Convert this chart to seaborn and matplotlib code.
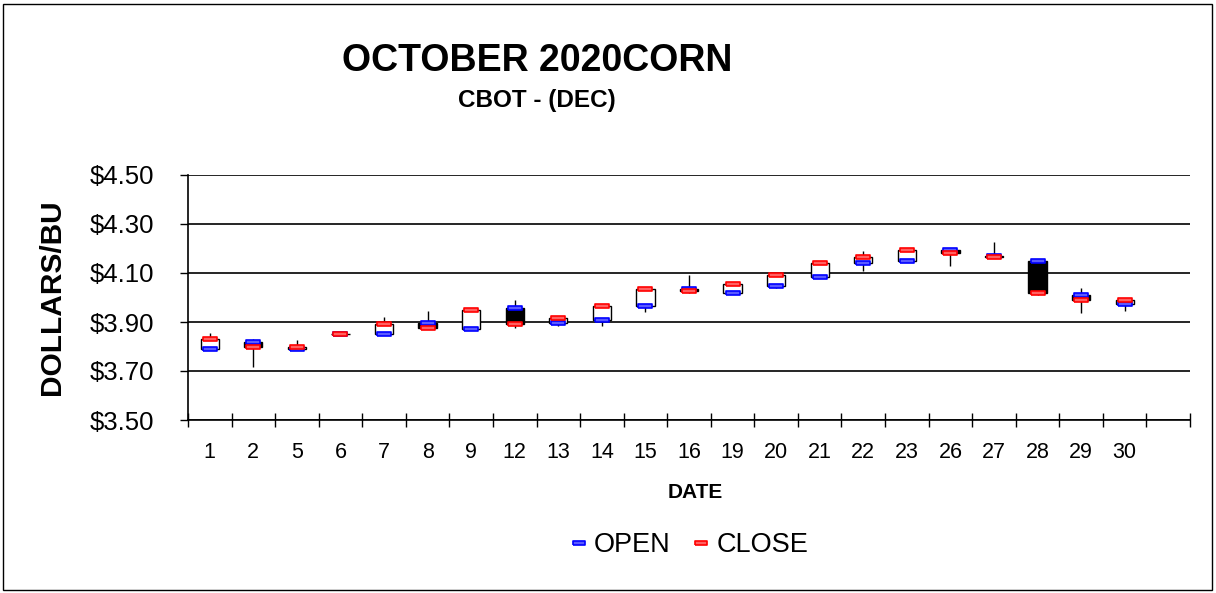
import numpy as np
import pandas as pd
import matplotlib
matplotlib.use("Agg")
import matplotlib.pyplot as plt
from matplotlib.lines import Line2D
from matplotlib.patches import Rectangle
from matplotlib.ticker import FuncFormatter
import seaborn as sns

# Data
days = ["1", "2", "5", "6", "7", "8", "9", "12", "13", "14", "15",
        "16", "19", "20", "21", "22", "23", "26", "27", "28", "29", "30"]
open_px = [3.790, 3.8175, 3.790, 3.850, 3.850, 3.895, 3.8725, 3.9575, 3.895, 3.910, 3.965,
           4.035, 4.020, 4.045, 4.0825, 4.140, 4.150, 4.195, 4.170, 4.150, 4.010, 3.975]
close_px = [3.830, 3.800, 3.7975, 3.850, 3.890, 3.875, 3.950, 3.8925, 3.915, 3.965, 4.035,
            4.025, 4.055, 4.090, 4.140, 4.165, 4.195, 4.180, 4.165, 4.020, 3.990, 3.990]
high_px = [3.855, 3.830, 3.825, 3.850, 3.920, 3.945, 3.950, 3.990, 3.925, 3.970, 4.040,
           4.090, 4.065, 4.100, 4.150, 4.190, 4.200, 4.200, 4.225, 4.155, 4.040, 4.000]
low_px = [3.790, 3.715, 3.790, 3.850, 3.845, 3.870, 3.870, 3.875, 3.885, 3.885, 3.940,
          4.020, 4.015, 4.040, 4.080, 4.110, 4.145, 4.130, 4.160, 4.010, 3.935, 3.945]

df = pd.DataFrame({"day": days, "open": open_px, "close": close_px,
                   "high": high_px, "low": low_px})
df["x"] = np.arange(len(df))

sns.set_theme(style="white")
plt.rcParams["font.family"] = ["Liberation Sans", "DejaVu Sans"]
plt.rcParams.update({"text.color": "black", "axes.labelcolor": "black",
                     "xtick.color": "black", "ytick.color": "black"})

fig = plt.figure(figsize=(12.16, 5.93), dpi=100)
ax = fig.add_axes([188 / 1216, 1 - 420 / 593, 1002 / 1216, 245 / 593])

# wicks
ax.vlines(df["x"], df["low"], df["high"], color="black", lw=1, zorder=2)

# bodies: hollow when up, black when down
up = df["close"] >= df["open"]
body_bottom = np.minimum(df["open"], df["close"])
body_h = (df["close"] - df["open"]).abs()
ax.bar(df["x"], body_h, bottom=body_bottom, width=0.42,
       color=np.where(up, "white", "black"), edgecolor="black", lw=1, zorder=3)

# open / close markers
bar_marker = [(-1.6, -0.5), (1.6, -0.5), (1.6, 0.5), (-1.6, 0.5), (-1.6, -0.5)]
long_df = pd.concat([
    pd.DataFrame({"x": df["x"], "price": df["open"], "kind": "OPEN"}),
    pd.DataFrame({"x": df["x"], "price": df["close"], "kind": "CLOSE"}),
])
palette = {"OPEN": "#0000ff", "CLOSE": "#ff0000"}
face = {"OPEN": "#5a5aff", "CLOSE": "#ff6060"}
for kind in ["OPEN", "CLOSE"]:
    sub = long_df[long_df["kind"] == kind]
    sns.scatterplot(data=sub, x="x", y="price", marker=bar_marker, s=100,
                    color=face[kind], edgecolor=palette[kind], linewidth=1.2,
                    legend=False, ax=ax, zorder=4)

ax.set_xlim(-0.5, 22.5)
ax.set_ylim(3.50, 4.50)
ax.set_yticks(np.arange(3.50, 4.51, 0.20))
ax.yaxis.set_major_formatter(FuncFormatter(lambda v, p: f"${v:.2f}"))
ax.set_xticks(df["x"])
ax.set_xticklabels(days)
ax.set_xticks(np.arange(-0.5, 23.0, 1.0), minor=True)
ax.set_xlabel("")
ax.set_ylabel("")

ax.grid(axis="y", color="black", lw=1.2)
ax.grid(axis="x", visible=False)
for s in ["top", "right"]:
    ax.spines[s].set_visible(False)
for s in ["left", "bottom"]:
    ax.spines[s].set_color("black")
    ax.spines[s].set_linewidth(1.2)

ax.tick_params(axis="y", which="major", left=True, direction="out", length=6,
               width=1, color="black", labelsize=18.5, pad=18)
ax.tick_params(axis="x", which="major", bottom=False, length=0, labelsize=15.5, pad=16)
ax.tick_params(axis="x", which="minor", bottom=True, direction="inout", length=10,
               width=1, color="black")

fig.text(537 / 1216, 1 - 61 / 593, "OCTOBER 2020CORN", ha="center", va="center",
         fontsize=27, fontweight="bold")
fig.text(537 / 1216, 1 - 100 / 593, "CBOT - (DEC)", ha="center", va="center",
         fontsize=17.5, fontweight="bold")
fig.text(52 / 1216, 1 - 297 / 593, "DOLLARS/BU", ha="center", va="center",
         rotation=90, fontsize=21.5, fontweight="bold")
fig.text(695 / 1216, 1 - 492 / 593, "DATE", ha="center", va="center",
         fontsize=15, fontweight="bold")

handles = [Line2D([], [], marker=bar_marker, linestyle="None", markersize=8,
                  markerfacecolor=face[k], markeredgecolor=palette[k],
                  markeredgewidth=1.2, label=k)
           for k in ["OPEN", "CLOSE"]]
fig.legend(handles=handles, loc="center", bbox_to_anchor=(690 / 1216, 1 - 545 / 593),
           ncol=2, frameon=False, fontsize=19.5, handlelength=0.5, handletextpad=0.3,
           columnspacing=0.9)

fig.add_artist(Rectangle((3 / 1216, 3 / 593), 1209 / 1216, 586 / 593,
                         transform=fig.transFigure, fill=False, ec="black", lw=1))

fig.savefig("out.png", dpi=100)
